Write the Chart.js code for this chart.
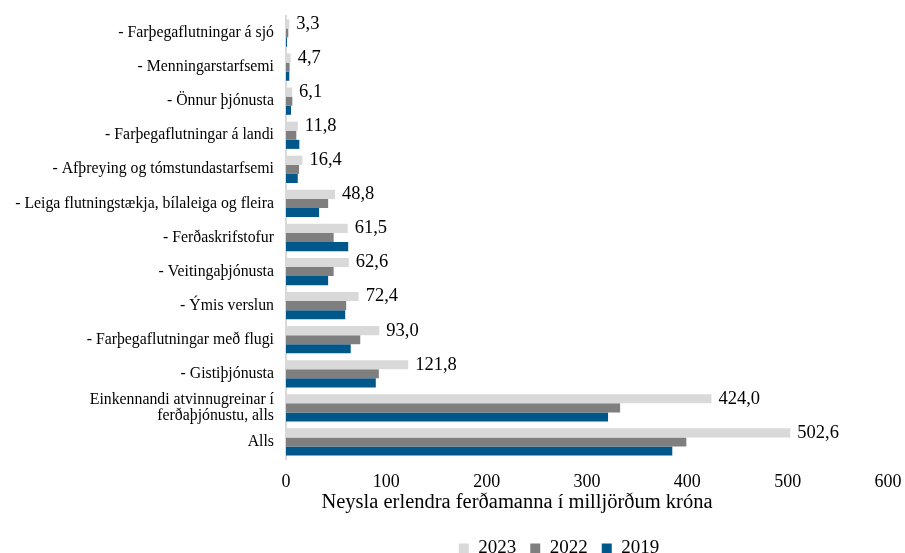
<!DOCTYPE html>
<html><head><meta charset="utf-8">
<script src="https://cdn.jsdelivr.net/npm/chart.js@4.4.1/dist/chart.umd.min.js"></script>
<style>html,body{margin:0;padding:0;background:#fff;overflow:hidden}#wrap{width:905px;height:553px;position:relative}</style>
</head><body><div id="wrap"><canvas id="c"></canvas></div>
<script>
const categories = [
  "- Farþegaflutningar á sjó",
  "- Menningarstarfsemi",
  "- Önnur þjónusta",
  "- Farþegaflutningar á landi",
  "- Afþreying og tómstundastarfsemi",
  "- Leiga flutningstækja, bílaleiga og fleira",
  "- Ferðaskrifstofur",
  "- Veitingaþjónusta",
  "- Ýmis verslun",
  "- Farþegaflutningar með flugi",
  "- Gistiþjónusta",
  ["Einkennandi atvinnugreinar í", "ferðaþjónustu, alls"],
  "Alls"
];
const values2023 = [3.3, 4.7, 6.1, 11.8, 16.4, 48.8, 61.5, 62.6, 72.4, 93.0, 121.8, 424.0, 502.6];
const values2022 = [2.3, 3.6, 6.3, 10.3, 13.0, 42.0, 47.5, 47.5, 60.0, 74.0, 92.5, 333.0, 399.0];
const values2019 = [1.0, 3.3, 5.0, 13.3, 11.7, 33.0, 62.0, 42.0, 59.0, 64.5, 89.5, 321.0, 385.0];
const seriesLabels = ["2023", "2022", "2019"];
const xTickValues = [0, 100, 200, 300, 400, 500, 600];
const xTitle = "Neysla erlendra ferðamanna í milljörðum króna";

const FONT = '"Liberation Serif", "Times New Roman", serif';

const valueLabels = {
  id: 'valueLabels',
  afterDatasetsDraw(chart) {
    const ctx = chart.ctx;
    const meta = chart.getDatasetMeta(0);
    ctx.save();
    ctx.font = '18.5px ' + FONT;
    ctx.fillStyle = '#000';
    ctx.textBaseline = 'middle';
    ctx.textAlign = 'left';
    meta.data.forEach((bar, i) => {
      const v = chart.data.datasets[0].data[i];
      ctx.fillText(v.toFixed(1).replace('.', ','), bar.x + 7, bar.y);
    });
    ctx.restore();
  }
};

function wrapShift(obj, method, dx, dy) {
  if (!obj || obj['_shift_' + method]) return;
  const orig = obj[method];
  obj[method] = function (...a) {
    const c = this.ctx;
    c.save();
    c.translate(dx, dy);
    orig.apply(this, a);
    c.restore();
  };
  obj['_shift_' + method] = true;
}

const shifter = {
  id: 'shifter',
  afterUpdate(chart, args, opts) {
    wrapShift(chart.legend, 'draw', opts.legendDx, opts.legendDy);
    wrapShift(chart.scales.x, 'drawTitle', opts.titleDx, opts.titleDy);
  }
};

new Chart(document.getElementById('c'), {
  type: 'bar',
  data: {
    labels: categories,
    datasets: [
      { label: seriesLabels[0], data: values2023, backgroundColor: '#d9d9d9' },
      { label: seriesLabels[1], data: values2022, backgroundColor: '#7f7f7f' },
      { label: seriesLabels[2], data: values2019, backgroundColor: '#00578a' }
    ]
  },
  options: {
    indexAxis: 'y',
    responsive: true,
    maintainAspectRatio: false,
    animation: false,
    layout: { padding: { top: 16, right: 17, left: 0, bottom: 0 } },
    datasets: { bar: { categoryPercentage: 0.8, barPercentage: 1.0 } },
    scales: {
      x: {
        min: 0, max: 600,
        afterBuildTicks(scale) { scale.ticks = xTickValues.map(v => ({ value: v })); },
        afterFit(scale) { scale.paddingRight = 0; scale.height = 51; },
        grid: { display: false, drawTicks: false },
        border: { display: false },
        ticks: { color: '#000', font: { family: FONT, size: 18 }, padding: 12, maxRotation: 0 },
        title: { display: true, text: xTitle, color: '#000', font: { family: FONT, size: 20.5, lineHeight: 1.0 }, padding: { top: 0, bottom: 0 } }
      },
      y: {
        grid: { display: false, drawTicks: false },
        border: { display: true, color: '#d9d9d9', width: 2 },
        afterFit(scale) { scale.width = 286; scale.paddingTop = 0; scale.paddingBottom = 0; },
        ticks: { color: '#000', font: { family: FONT, size: 15.8, lineHeight: 1.05 }, padding: 12, autoSkip: false }
      }
    },
    plugins: {
      legend: {
        position: 'bottom',
        labels: { color: '#000', font: { family: FONT, size: 19 }, boxWidth: 10, boxHeight: 10, padding: 14 }
      },
      shifter: { legendDx: 115, legendDy: 15, titleDx: -70, titleDy: 3 },
      tooltip: { enabled: false }
    }
  },
  plugins: [valueLabels, shifter]
});
</script>
</body></html>
